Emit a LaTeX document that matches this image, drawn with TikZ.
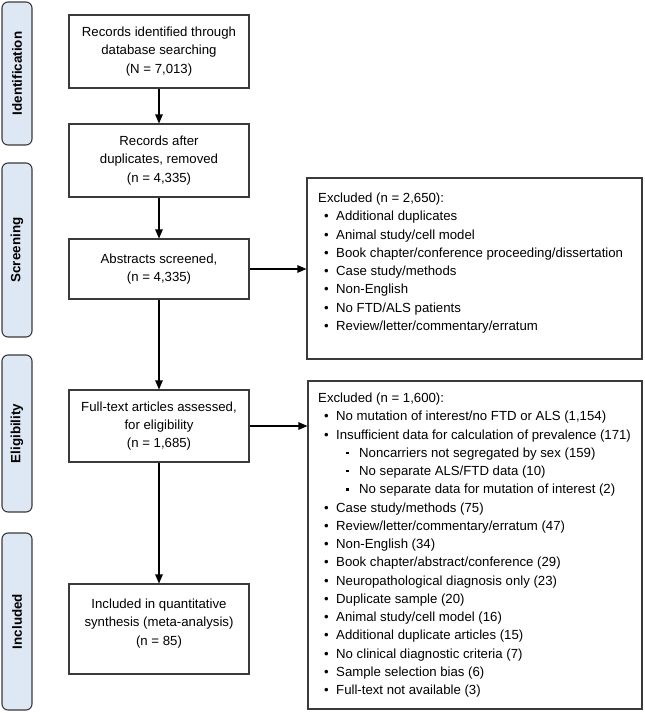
\documentclass[tikz,border=0pt]{standalone}
\usepackage{fontspec}
\setmainfont{Liberation Sans}
\usetikzlibrary{arrows.meta}
\definecolor{sidefill}{HTML}{DDE8F4}
\definecolor{edge}{HTML}{3A3A3A}
\begin{document}
\begin{tikzpicture}[x=1pt,y=-1pt,
  txt/.style={font=\fontsize{13.2}{18.3}\selectfont},
  mainbox/.style={draw=edge,line width=1.1pt,minimum width=180pt,inner sep=0pt,align=center,txt},
  exbox/.style={draw=edge,line width=1.1pt,inner sep=0pt},
  sidebox/.style={draw=edge,line width=1.1pt,fill=sidefill,rounded corners=6pt,minimum width=30pt,inner sep=0pt},
  sidetxt/.style={rotate=90,font=\fontsize{13.4}{16}\selectfont\bfseries},
  flow/.style={line width=1.1pt,-{Triangle[length=9pt,width=7.5pt]}},
  line/.style={anchor=base west,inner sep=0pt,txt}]
\useasboundingbox (0,0) rectangle (645,713);
% side labels
\node[sidebox,minimum height=143pt] (s1) at (17,73.5) {};
\node[sidetxt] (t1) at (s1.center) {Identification};
\node[sidebox,minimum height=174pt] (s2) at (17,250) {};
\node[sidetxt] (t2) at (s2.center) {Screening};
\node[sidebox,minimum height=157pt] (s3) at (17,433.5) {};
\node[sidetxt] (t3) at (s3.center) {Eligibility};
\node[sidebox,minimum height=177pt] (s4) at (17,621.5) {};
\node[sidetxt] (t4) at (s4.center) {Included};
% main boxes
\node[mainbox,minimum height=73pt] (b1) at (159,51.5) {Records identified through\\database searching\\(N = 7,013)};
\node[mainbox,minimum height=73pt] (b2) at (159,160.5) {Records after\\duplicates, removed\\(n = 4,335)};
\node[mainbox,minimum height=60pt] (b3) at (159,269) {Abstracts screened,\\(n = 4,335)};
\node[mainbox,minimum height=72pt] (b4) at (159,426) {Full-text articles assessed,\\for eligibility\\(n = 1,685)};
\node[mainbox,minimum height=90pt] (b5) at (159,629) {};
\node[txt,align=center,inner sep=0pt] (b5t) at (159,623.5) {Included in quantitative\\synthesis (meta-analysis)\\(n = 85)};
% exclusion boxes
\node[exbox,minimum width=335pt,minimum height=181pt] (x1) at (474.5,268.5) {};
\node[exbox,minimum width=334pt,minimum height=328pt] (x2) at (475,545) {};
% arrows
\draw[flow] (b1) -- (b2);
\draw[flow] (b2) -- (b3);
\draw[flow] (b3) -- (b4);
\draw[flow] (b4) -- (b5);
\draw[flow] (b3.east) -- (b3.east -| x1.west);
\draw[flow] (b4.east) -- (b4.east -| x2.west);
% exclusion list 1
\foreach \lvl/\txt [count=\i from 0] in {
  0/{Excluded (n = 2,650):},
  1/{Additional duplicates},
  1/{Animal study/cell model},
  1/{Book chapter/conference proceeding/dissertation},
  1/{Case study/methods},
  1/{Non-English},
  1/{No FTD/ALS patients},
  1/{Review/letter/commentary/erratum}}{
  \pgfmathsetmacro{\yy}{202.7+18.25*\i}
  \ifnum\lvl=0
    \node[line] (xa\i) at (318,\yy) {\txt};
  \else
    \node[line] (xb\i) at (324,\yy) {•};
    \node[line] (xa\i) at (336,\yy) {\txt};
  \fi
}
% exclusion list 2
\foreach \lvl/\txt [count=\i from 0] in {
  0/{Excluded (n = 1,600):},
  1/{No mutation of interest/no FTD or ALS (1,154)},
  1/{Insufficient data for calculation of prevalence (171)},
  2/{Noncarriers not segregated by sex (159)},
  2/{No separate ALS/FTD data (10)},
  2/{No separate data for mutation of interest (2)},
  1/{Case study/methods (75)},
  1/{Review/letter/commentary/erratum (47)},
  1/{Non-English (34)},
  1/{Book chapter/abstract/conference (29)},
  1/{Neuropathological diagnosis only (23)},
  1/{Duplicate sample (20)},
  1/{Animal study/cell model (16)},
  1/{Additional duplicate articles (15)},
  1/{No clinical diagnostic criteria (7)},
  1/{Sample selection bias (6)},
  1/{Full-text not available (3)}}{
  \pgfmathsetmacro{\yy}{402.7+18.25*\i}
  \ifnum\lvl=0
    \node[line] (ya\i) at (318,\yy) {\txt};
  \else\ifnum\lvl=1
    \node[line] (yb\i) at (324,\yy) {•};
    \node[line] (ya\i) at (336,\yy) {\txt};
  \else
    \node[line] (yb\i) at (346,\yy) {\raisebox{3.3pt}{\rule{2.4pt}{2.4pt}}};
    \node[line] (ya\i) at (359,\yy) {\txt};
  \fi\fi
}
\end{tikzpicture}
\end{document}
